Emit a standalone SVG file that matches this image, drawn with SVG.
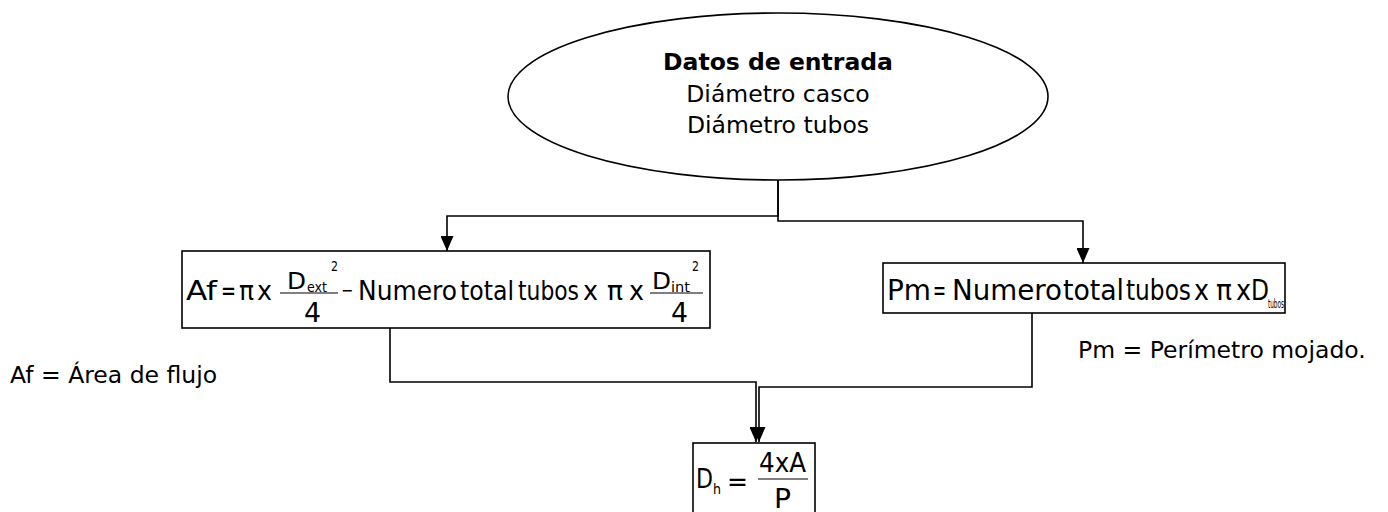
<svg xmlns="http://www.w3.org/2000/svg" width="1388" height="512" viewBox="0 0 1388 512">
<style>
.shape{fill:#fff;stroke:#000;stroke-width:1.6}
.conn{fill:none;stroke:#000;stroke-width:1.6}
.t{font-family:"DejaVu Sans","Verdana",sans-serif;font-size:23.5px;fill:#000}
.b{font-weight:bold}
.f{font-family:"DejaVu Sans Condensed","DejaVu Sans",sans-serif;font-stretch:condensed;fill:#000}
.bar{stroke:#000;stroke-width:1.2}
</style>
<defs>
<marker id="arr" markerUnits="userSpaceOnUse" markerWidth="15" markerHeight="13" refX="15" refY="6.5" orient="auto">
<path d="M0,0 L15,6.5 L0,13 z" fill="#000"/>
</marker>
</defs>
<rect width="1388" height="512" fill="#fff"/>
<g id="connectors">
<path class="conn" d="M778,180 V216 H447 V251" marker-end="url(#arr)"/>
<path class="conn" d="M778,180 V221 H1083 V263" marker-end="url(#arr)"/>
<path class="conn" d="M390,328 V382 H756 V442" marker-end="url(#arr)"/>
<path class="conn" d="M1032,313 V387 H759 V442" marker-end="url(#arr)"/>
</g>
<g id="datos-entrada">
<ellipse class="shape" cx="778" cy="96.5" rx="270" ry="83.5"/>
<text class="t b" x="778" y="70" text-anchor="middle">Datos de entrada</text>
<text class="t" x="778" y="102" text-anchor="middle">Diámetro casco</text>
<text class="t" x="778" y="133" text-anchor="middle">Diámetro tubos</text>
</g>
<g id="area-flujo">
<rect class="shape" x="182" y="251" width="528" height="77"/>
<g class="f" font-size="26.5">
<text x="186" y="300" textLength="31" lengthAdjust="spacingAndGlyphs">Af</text>
<text x="221" y="300" textLength="15" lengthAdjust="spacingAndGlyphs">=</text>
<text x="239" y="300" textLength="15" lengthAdjust="spacingAndGlyphs">π</text>
<text x="257" y="300" textLength="15" lengthAdjust="spacingAndGlyphs">x</text>
<text x="287" y="289" font-size="23" textLength="19" lengthAdjust="spacingAndGlyphs">D</text>
<text x="307" y="292" font-size="14" textLength="20" lengthAdjust="spacingAndGlyphs">ext</text>
<text x="331" y="271" font-size="14" textLength="7" lengthAdjust="spacingAndGlyphs">2</text>
<text x="304" y="322" textLength="17" lengthAdjust="spacingAndGlyphs">4</text>
<text x="341" y="296" font-size="16">−</text>
<text x="358" y="300" textLength="99" lengthAdjust="spacingAndGlyphs">Numero</text>
<text x="460" y="300" textLength="54" lengthAdjust="spacingAndGlyphs">total</text>
<text x="518" y="300" textLength="61" lengthAdjust="spacingAndGlyphs">tubos</text>
<text x="583" y="300" textLength="15" lengthAdjust="spacingAndGlyphs">x</text>
<text x="607" y="300" textLength="16" lengthAdjust="spacingAndGlyphs">π</text>
<text x="629" y="300" textLength="15" lengthAdjust="spacingAndGlyphs">x</text>
<text x="652" y="289" font-size="23" textLength="19" lengthAdjust="spacingAndGlyphs">D</text>
<text x="671" y="292" font-size="14" textLength="19" lengthAdjust="spacingAndGlyphs">int</text>
<text x="692" y="271" font-size="14" textLength="7" lengthAdjust="spacingAndGlyphs">2</text>
<text x="671" y="322" textLength="17" lengthAdjust="spacingAndGlyphs">4</text>
</g>
<line class="bar" x1="280" y1="293" x2="338" y2="293"/>
<line class="bar" x1="650" y1="293" x2="703" y2="293"/>
</g>
<g id="perimetro-mojado">
<rect class="shape" x="883" y="263" width="402" height="50"/>
<g class="f" font-size="28">
<text x="887" y="300" textLength="44" lengthAdjust="spacingAndGlyphs">Pm</text>
<text x="933" y="300" textLength="13" lengthAdjust="spacingAndGlyphs">=</text>
<text x="952" y="300" textLength="110" lengthAdjust="spacingAndGlyphs">Numero</text>
<text x="1063" y="300" textLength="61" lengthAdjust="spacingAndGlyphs">total</text>
<text x="1126" y="300" textLength="65" lengthAdjust="spacingAndGlyphs">tubos</text>
<text x="1194" y="300" textLength="15" lengthAdjust="spacingAndGlyphs">x</text>
<text x="1216" y="300" textLength="16" lengthAdjust="spacingAndGlyphs">π</text>
<text x="1236" y="300" textLength="15" lengthAdjust="spacingAndGlyphs">x</text>
<text x="1251" y="300" textLength="18" lengthAdjust="spacingAndGlyphs">D</text>
<text x="1268" y="308" font-size="12" textLength="16" lengthAdjust="spacingAndGlyphs">tubos</text>
</g>
</g>
<g id="diametro-hidraulico">
<rect class="shape" x="693" y="443" width="122" height="80"/>
<g class="f" font-size="26">
<text x="696" y="488" textLength="17" lengthAdjust="spacingAndGlyphs">D</text>
<text x="713" y="494" font-size="14" textLength="8" lengthAdjust="spacingAndGlyphs">h</text>
<text x="727" y="491" textLength="21" lengthAdjust="spacingAndGlyphs">=</text>
<text x="759" y="472" textLength="47" lengthAdjust="spacingAndGlyphs">4xA</text>
<text x="774" y="508" textLength="17" lengthAdjust="spacingAndGlyphs">P</text>
</g>
<line class="bar" x1="758" y1="479" x2="808" y2="479"/>
</g>
<g id="label-af">
<text class="t" x="10" y="383">Af = Área de flujo</text>
</g>
<g id="label-pm">
<text class="t" x="1078" y="358">Pm = Perímetro mojado.</text>
</g>
</svg>
